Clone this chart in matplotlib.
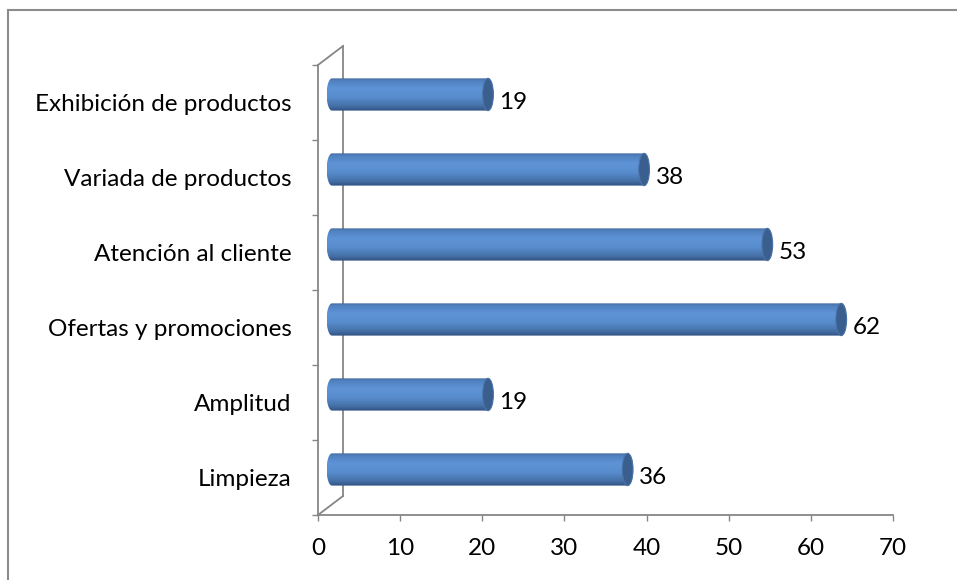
import numpy as np
import matplotlib
matplotlib.use("Agg")
import matplotlib.pyplot as plt
from matplotlib.path import Path
from matplotlib.patches import PathPatch, Ellipse
from matplotlib.colors import LinearSegmentedColormap
from matplotlib.lines import Line2D

plt.rcParams["font.family"] = ["Lato", "DejaVu Sans"]

categories = ["Limpieza", "Amplitud", "Ofertas y promociones",
              "Atención al cliente", "Variada de productos", "Exhibición de productos"]
values = [36, 19, 62, 53, 38, 19]
xticks = [0, 10, 20, 30, 40, 50, 60, 70]

W, H = 957, 580
fig = plt.figure(figsize=(W / 100, H / 100), dpi=100)
ax = fig.add_axes([318 / W, (H - 515) / H, 575 / W, 450 / H])

grey = "#868686"
n = len(categories)
fs = 17.5

# depth of the 3D floor/wall, in data units
dx, dy = 3.04, 0.253
# cylinder geometry
cx0 = 1.7        # center of the left end
a, b = 0.65, 0.215  # half width / half height of the end ellipses
yoff = 0.107

shade = LinearSegmentedColormap.from_list("cyl", [
    (0.0, "#45699b"), (0.08, "#5081c0"), (0.32, "#5e94d7"),
    (0.6, "#578bcc"), (0.85, "#4570a6"), (1.0, "#315282")])
grad = np.linspace(0, 1, 256).reshape(-1, 1)

for i, v in enumerate(values):
    yc = i + yoff
    cx1 = v + cx0
    t1 = np.linspace(np.pi / 2, 3 * np.pi / 2, 40)
    t2 = np.linspace(-np.pi / 2, np.pi / 2, 40)
    left = np.column_stack([cx0 + a * np.cos(t1), yc + b * np.sin(t1)])
    right = np.column_stack([cx1 + a * np.cos(t2), yc + b * np.sin(t2)])
    verts = np.vstack([left, right, left[:1]])
    codes = [Path.MOVETO] + [Path.LINETO] * (len(verts) - 2) + [Path.CLOSEPOLY]
    body = PathPatch(Path(verts, codes), facecolor="none", edgecolor="none")
    ax.add_patch(body)
    im = ax.imshow(grad, cmap=shade, aspect="auto", origin="upper",
                   extent=[cx0 - a, cx1 + a, yc - b, yc + b], zorder=3)
    im.set_clip_path(body)
    cap = Ellipse((cx1, yc), 2 * a, 2 * b, facecolor="#3a5e8e",
                  edgecolor="#4a73a8", linewidth=0.8, zorder=4)
    ax.add_patch(cap)
    ax.text(v + 3.1, i, str(v), ha="left", va="center", fontsize=fs, zorder=5)

# front axes, back wall and floor edges
lw = 1.3
ax.plot([0, 0], [-0.5, n - 0.5], color=grey, lw=lw, clip_on=False)
ax.plot([0, 70], [-0.5, -0.5], color=grey, lw=lw, clip_on=False)
ax.plot([dx, dx], [-0.5 + dy, n - 0.5 + dy], color=grey, lw=lw, clip_on=False)
ax.plot([0, dx], [-0.5, -0.5 + dy], color=grey, lw=lw, clip_on=False)
ax.plot([0, dx], [n - 0.5, n - 0.5 + dy], color=grey, lw=lw, clip_on=False)

ax.set_xlim(0, 70)
ax.set_ylim(-0.5, n - 0.5)
for s in ax.spines.values():
    s.set_visible(False)

ax.set_xticks(xticks)
ax.set_xticklabels([str(t) for t in xticks], fontsize=fs)
ax.tick_params(axis="x", length=4.5, width=1, color=grey, pad=12)
ax.set_yticks(range(n))
ax.set_yticklabels(categories, fontsize=fs)
ax.tick_params(axis="y", which="major", length=0, pad=19)
ax.set_yticks(np.arange(-0.5, n, 1.0), minor=True)
ax.tick_params(axis="y", which="minor", length=4.5, width=1, color=grey)

# chart area border (only top and left edges fall inside the image)
fig.add_artist(Line2D([8 / W, 8 / W], [0, 1 - 10 / H], transform=fig.transFigure,
                      color="#8c8c8c", lw=1.5))
fig.add_artist(Line2D([8 / W, 1], [1 - 10 / H, 1 - 10 / H], transform=fig.transFigure,
                      color="#8c8c8c", lw=1.5))

fig.savefig("out.png", dpi=100, facecolor="white")
